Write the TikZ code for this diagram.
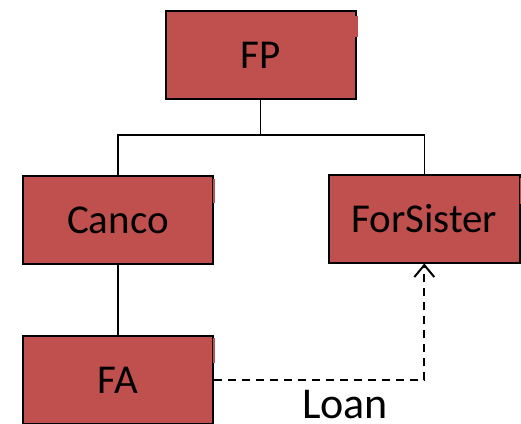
\documentclass[tikz,border=0pt]{standalone}
\usepackage{fontspec}
\setmainfont{Carlito}
\usetikzlibrary{arrows.meta}
\definecolor{boxred}{HTML}{C0504D}
\begin{document}
\begin{tikzpicture}[x=1pt,y=1pt,
  entity/.style={draw=black, line width=2pt, fill=boxred, inner sep=0pt,
    minimum width=190pt, minimum height=88pt,
    font=\fontsize{41}{48}\selectfont},
  link/.style={line width=1.3pt, black},
  loanline/.style={line width=2pt, dash pattern=on 8pt off 6pt,
    -{Straight Barb[length=12pt, width=20pt, line width=2pt]}},
  nick/.style={fill=boxred}]
\useasboundingbox (0,0) rectangle (521,-423);

% entities
\node[entity] (fp) at (260.5,-55) {FP};
\node[entity] (canco) at (117.9,-220) {Canco};
\node[entity, minimum width=191pt] (forsister) at (424.3,-218.5) {ForSister};
\node[entity] (fa) at (117.9,-380) {FA};

% small breaks in the right-hand borders
\fill[nick] ([xshift=-1.2pt,yshift=-6pt]fp.north east) rectangle ([xshift=1.2pt,yshift=-27pt]fp.north east);
\fill[nick] ([xshift=-1.2pt,yshift=-4pt]canco.north east) rectangle ([xshift=1.2pt,yshift=-28pt]canco.north east);
\fill[nick] ([xshift=-1.2pt,yshift=-4pt]forsister.north east) rectangle ([xshift=1.2pt,yshift=-30pt]forsister.north east);
\fill[nick] ([xshift=-1.2pt,yshift=-3pt]fa.north east) rectangle ([xshift=1.2pt,yshift=-28pt]fa.north east);

% ownership tree
\coordinate (bus) at (260.5,-135);
\draw[link] (fp.south) -- (bus);
\draw[link] (canco.north) |- (bus) -| (forsister.north);
\draw[link] (canco.south) -- (fa.north);

% loan
\draw[loanline] (fa.east) -| (forsister.south);
\node[anchor=base, inner sep=0pt, font=\fontsize{44}{52}\selectfont] (loan) at (345,-418) {Loan};
\end{tikzpicture}
\end{document}
